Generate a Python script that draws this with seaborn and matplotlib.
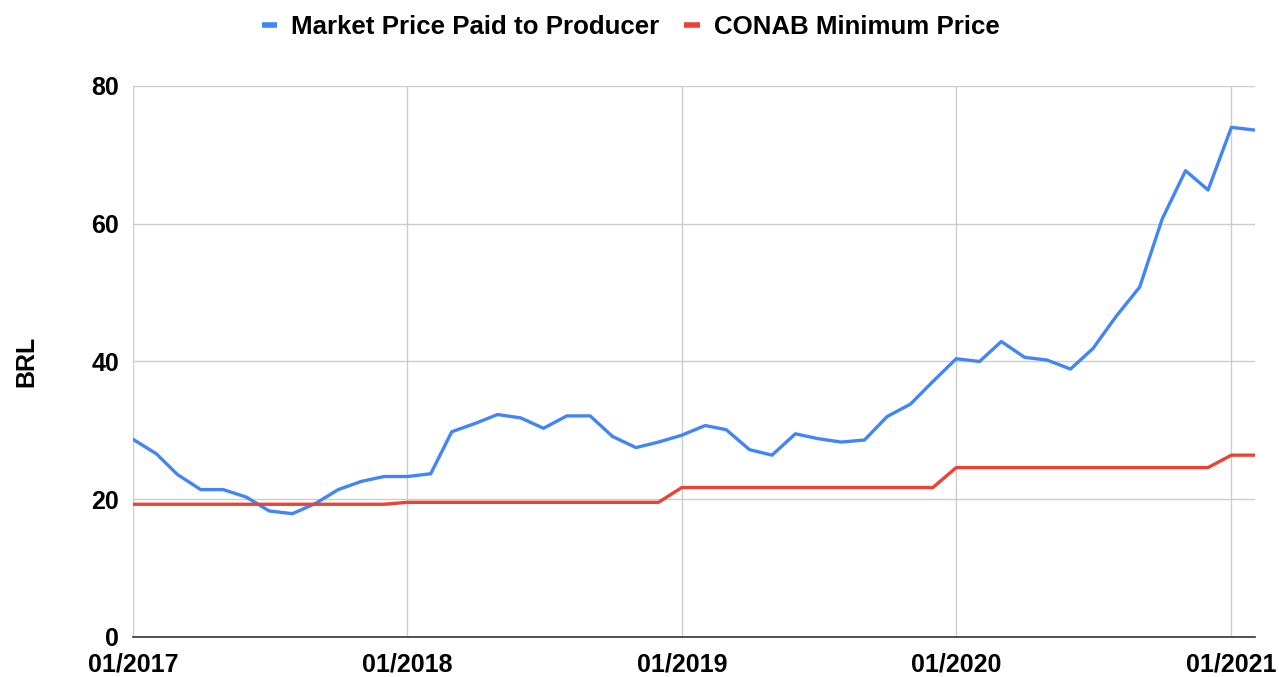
import matplotlib
matplotlib.use("Agg")
import matplotlib.pyplot as plt
from matplotlib.lines import Line2D
import seaborn as sns
import pandas as pd

sns.set_theme(style="white")
plt.rcParams['font.family'] = ['Liberation Sans', 'DejaVu Sans']
plt.rcParams['text.color'] = 'black'
plt.rcParams['axes.labelcolor'] = 'black'

months = pd.date_range("2017-01-01", periods=50, freq="MS")

market_price = [
    28.7, 26.6, 23.6, 21.4, 21.4, 20.3, 18.3, 17.9, 19.4, 21.4, 22.6, 23.3,
    23.3, 23.7, 29.8, 31.0, 32.3, 31.8, 30.3, 32.1, 32.1, 29.1, 27.5, 28.3,
    29.3, 30.7, 30.1, 27.2, 26.4, 29.5, 28.8, 28.3, 28.6, 32.0, 33.8, 37.1,
    40.4, 40.0, 42.9, 40.6, 40.2, 38.9, 41.9, 46.6, 50.8, 60.7, 67.7, 64.9,
    74.0, 73.6,
]
conab_min = (
    [19.27] * 12 + [19.55] * 12 + [21.7] * 12 + [24.6] * 12 + [26.4] * 2
)

series_names = ["Market Price Paid to Producer", "CONAB Minimum Price"]
colors = ["#4285F4", "#EA4335"]
tick_labels = ["01/2017", "01/2018", "01/2019", "01/2020", "01/2021"]
y_ticks = [0, 20, 40, 60, 80]

df = pd.DataFrame({
    "date": list(months) * 2,
    "value": market_price + conab_min,
    "series": [series_names[0]] * len(months) + [series_names[1]] * len(months),
})

fig = plt.figure(figsize=(12.79, 6.77), dpi=100)
ax = fig.add_axes([0.104, 0.0591, 0.877, 0.8139])

sns.lineplot(data=df, x="date", y="value", hue="series",
             palette=dict(zip(series_names, colors)), linewidth=2.4,
             ax=ax, legend=False)

ax.set_xlim(months[0], months[-1])
ax.set_ylim(0, 80)
ax.set_yticks(y_ticks)
tick_dates = pd.to_datetime(["2017-01-01", "2018-01-01", "2019-01-01", "2020-01-01", "2021-01-01"])
ax.set_xticks(tick_dates)
ax.set_xticklabels(tick_labels)

ax.grid(True, color="#cccccc", linewidth=1.0)
ax.set_axisbelow(True)
for s in ["top", "right", "left"]:
    ax.spines[s].set_visible(False)
ax.spines["bottom"].set_color("#333333")
ax.spines["bottom"].set_linewidth(1.2)
ax.spines["bottom"].set_zorder(5)

ax.tick_params(axis="both", length=0, labelsize=18, labelcolor="black")
ax.tick_params(axis="x", pad=11)
ax.tick_params(axis="y", pad=10)
for lab in ax.get_xticklabels() + ax.get_yticklabels():
    lab.set_fontweight("bold")

ax.set_xlabel("")
ax.set_ylabel("BRL", fontsize=18, fontweight="bold", labelpad=38, color="black")

handles = [Line2D([0], [0], color=c, linewidth=4, solid_capstyle="butt") for c in colors]
fig.legend(handles, series_names, loc="upper center", bbox_to_anchor=(0.493, 1.012),
           ncol=2, frameon=False, handlelength=0.6, handletextpad=0.55,
           columnspacing=0.95, prop={"size": 18.6, "weight": "bold"},
           labelcolor="black")

fig.savefig("out.png", dpi=100)
